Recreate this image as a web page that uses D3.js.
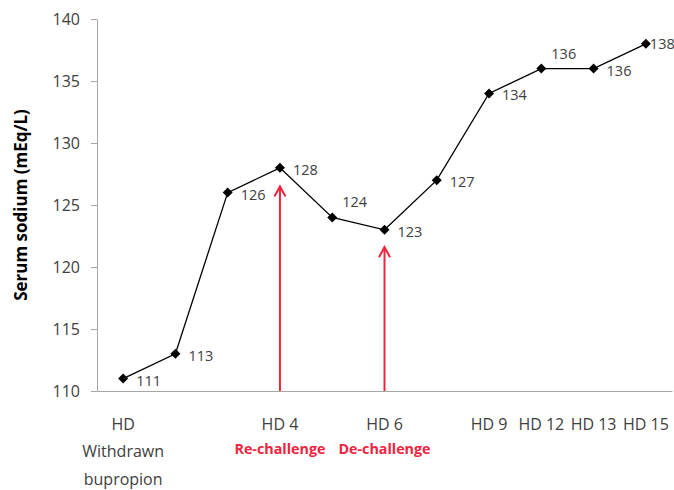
<!DOCTYPE html>
<html>
<head>
<meta charset="utf-8">
<script src="https://cdn.jsdelivr.net/npm/d3@7"></script>
<style>
  body { margin: 0; background: #fff; }
  text { font-family: "Open Sans", "Noto Sans", sans-serif; }
</style>
</head>
<body>
<div id="chart"></div>
<script>
// Chart values
var days = ["HD|Withdrawn|bupropion", "d2", "d3", "HD 4", "d5", "HD 6", "d7", "HD 9", "HD 12", "HD 13", "HD 15"];
var sodium = [111, 113, 126, 128, 124, 123, 127, 134, 136, 136, 138];
var yTicks = [110, 115, 120, 125, 130, 135, 140];
// label placement: "r" right of point, "a" above-right, "t" tight right
var labelPos = ["r", "r", "r", "r", "a", "r", "r", "r", "a", "r", "t"];
// red event arrows
var events = ["HD 4", "HD 6"];
var eventNames = ["Re-challenge", "De-challenge"];
var eventTops = [126.5, 121.6];

var width = 674,
    height = 490,
    margin = {top: 19, right: 2, bottom: 99, left: 97},
    widthInside = width - margin.left - margin.right,
    heightInside = height - margin.top - margin.bottom;

var svg = d3.select("#chart").append("svg")
    .attr("width", width)
    .attr("height", height);

var g = svg.append("g")
    .attr("transform", "translate(" + margin.left + "," + margin.top + ")");

var x = d3.scaleBand().domain(days).range([0, widthInside]),
    y = d3.scaleLinear().domain([110, 140]).range([heightInside, 0]);

function cx(d) { return x(d) + x.bandwidth() / 2; }

// Y axis
var yAxis = g.append("g")
    .call(d3.axisLeft(y).tickValues(yTicks).tickSize(6).tickSizeOuter(0).tickPadding(11));
yAxis.select(".domain").attr("stroke", "#a6a6a6");
yAxis.selectAll(".tick line").attr("stroke", "#a6a6a6");
yAxis.selectAll(".tick text")
    .attr("fill", "#404040")
    .style("font-size", "16px");

// X axis
var xAxis = g.append("g")
    .attr("transform", "translate(0," + heightInside + ")")
    .call(d3.axisBottom(x).tickSize(0).tickFormat(""));
xAxis.select(".domain").attr("stroke", "#a6a6a6");

// category labels
var catLabels = g.append("g");
days.forEach(function (d) {
    if (d.indexOf("HD") !== 0) { return; }
    var t = catLabels.append("text")
        .attr("x", cx(d))
        .attr("y", heightInside + 39)
        .attr("text-anchor", "middle")
        .attr("fill", "#404040")
        .style("font-size", "16px");
    d.split("|").forEach(function (part, i) {
        t.append("tspan")
            .attr("x", cx(d))
            .attr("dy", i === 0 ? 0 : 27.3)
            .text(part);
    });
});

// event names under categories
events.forEach(function (d, i) {
    g.append("text")
        .attr("x", cx(d))
        .attr("y", heightInside + 63)
        .attr("text-anchor", "middle")
        .attr("fill", "#f0243f")
        .style("font-size", "14.3px")
        .style("font-weight", "bold")
        .text(eventNames[i]);
});

// arrows
events.forEach(function (d, i) {
    var ax = cx(d), top = y(eventTops[i]);
    g.append("line")
        .attr("x1", ax).attr("x2", ax)
        .attr("y1", heightInside).attr("y2", top)
        .attr("stroke", "#f0243f")
        .attr("stroke-width", 2);
    g.append("path")
        .attr("d", "M" + (ax - 5.5) + "," + (top + 10) + "L" + ax + "," + top + "L" + (ax + 5.5) + "," + (top + 10))
        .attr("fill", "none")
        .attr("stroke", "#f0243f")
        .attr("stroke-width", 2);
});

// line
var line = d3.line()
    .x(function (d, i) { return cx(days[i]); })
    .y(function (d) { return y(d); });

g.append("path")
    .datum(sodium)
    .attr("fill", "none")
    .attr("stroke", "#000")
    .attr("stroke-width", 1.3)
    .attr("d", line);

// diamond markers
g.selectAll(".pt")
    .data(sodium)
    .enter().append("path")
    .attr("class", "pt")
    .attr("d", d3.symbol().type(d3.symbolSquare).size(50))
    .attr("transform", function (d, i) {
        return "translate(" + cx(days[i]) + "," + y(d) + ") rotate(45)";
    })
    .attr("fill", "#000");

// value labels
g.selectAll(".lbl")
    .data(sodium)
    .enter().append("text")
    .attr("class", "lbl")
    .attr("x", function (d, i) {
        var p = labelPos[i];
        return cx(days[i]) + (p === "a" ? 10 : (p === "t" ? 4 : 13));
    })
    .attr("y", function (d, i) {
        var p = labelPos[i];
        return y(d) + (p === "a" ? -10 : (p === "t" ? 5 : 7));
    })
    .attr("fill", "#404040")
    .style("font-size", "14.5px")
    .text(function (d) { return d; });

// Y axis title
svg.append("text")
    .attr("transform", "translate(27," + (margin.top + heightInside / 2) + ") rotate(-90)")
    .attr("text-anchor", "middle")
    .attr("fill", "#000")
    .style("font-size", "17px")
    .style("font-weight", "bold")
    .text("Serum sodium (mEq/L)");
</script>
</body>
</html>
